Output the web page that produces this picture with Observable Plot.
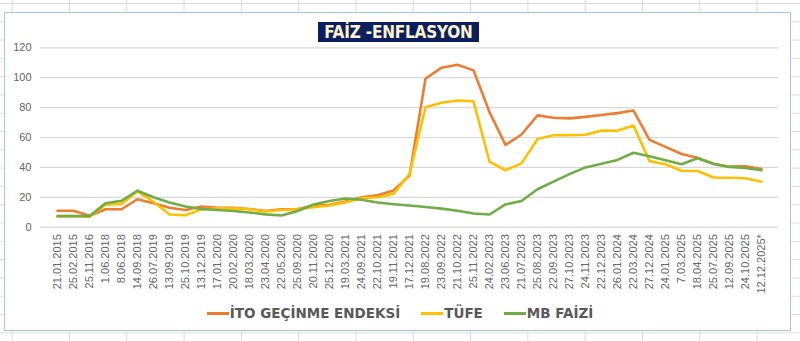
<!DOCTYPE html>
<html><head><meta charset="utf-8">
<script src="https://cdn.jsdelivr.net/npm/d3@7"></script>
<script src="https://cdn.jsdelivr.net/npm/@observablehq/plot@0.6"></script>
<style>
html,body{margin:0;padding:0;}
body{width:800px;height:341px;position:relative;overflow:hidden;background-color:#fff;
  background-image:linear-gradient(to right,#dcdcdc 1px,transparent 1px),linear-gradient(to bottom,#dcdcdc 1px,transparent 1px);
  background-size:57.3px 18.3px,57.3px 18.3px;background-position:11.7px 0,0 3px;}
#box{position:absolute;left:4px;top:12px;width:785px;height:317px;background:#fff;border:1px solid #a9c6e8;}
#title{position:absolute;left:318px;top:22px;width:161px;height:20px;background:#0b1f5e;color:#fdf3cf;
  font-family:"DejaVu Sans Condensed","DejaVu Sans";font-weight:bold;font-size:17px;line-height:20px;text-align:center;letter-spacing:-0.2px;}
#chart{position:absolute;left:0;top:0;}
#legend{position:absolute;left:0;top:305px;width:800px;display:flex;justify-content:center;align-items:center;gap:21px;
  font-family:"DejaVu Sans";font-weight:bold;font-size:13.5px;color:#595959;}
.item{display:flex;align-items:center;}
.sw{display:inline-block;width:22px;height:3px;margin-right:1px;}
</style></head><body>
<div id="box"></div>
<div id="chart"></div>
<div id="title">FAİZ -ENFLASYON</div>
<div id="legend"></div>
<script>
const dates = ["21.01.2015","25.02.2015","25.11.2016","1.06.2018","8.06.2018","14.09.2018","26.07.2019","13.09.2019","25.10.2019","13.12.2019","17.01.2020","20.02.2020","18.03.2020","23.04.2020","22.05.2020","25.09.2020","20.11.2020","25.12.2020","19.03.2021","24.09.2021","22.10.2021","19.11.2021","17.12.2021","19.08.2022","23.09.2022","21.10.2022","25.11.2022","24.02.2023","23.06.2023","21.07.2023","25.08.2023","22.09.2023","27.10.2023","24.11.2023","22.12.2023","26.01.2024","22.03.2024","27.12.2024","24.01.2025","7.03.2025","18.04.2025","25.07.2025","12.09.2025","24.10.2025","12.12.2025*"];
const ito  = [11,11,7.6,12,12,18.7,16,13,11.5,13.8,13,13,12.2,10.8,12,12.2,14.3,15,17.2,20,21.4,24.6,34.5,99.3,106.7,108.7,104.9,77,55,62,74.8,73.2,72.8,73.8,75,76.3,78,58.4,53.7,49,46.5,42.5,40.5,40.7,38.9];
const tufe = [7.4,7.5,7,15,15.6,24,17,8.5,8,12,12.6,12.6,12,10.5,11.5,12,13.3,14.5,16.6,19.5,20,22.3,35.6,80.3,83.2,84.8,84.2,43.8,38.1,42.7,59,61.5,61.6,61.8,64.6,64.5,68,44.2,42.1,37.8,37.6,33.2,33.1,32.7,30.4];
const mb   = [7.4,7.4,7.4,16,17.7,24.4,20,16.5,13.8,12.2,11.5,10.8,9.8,8.6,7.8,10.8,15.2,17.5,19.2,18.4,16.5,15.4,14.5,13.5,12.4,11,9.2,8.5,15.2,17.5,25.4,30.5,35.5,40,42.5,45,49.8,47.4,44.8,42.1,46.1,42.3,40.3,39.6,38.1];
const seriesNames = ["İTO GEÇİNME ENDEKSİ","TÜFE","MB FAİZİ"];
const seriesColors = ["#ED7D31","#FFC000","#70AD47"];
const yTicks = [0,20,40,60,80,100,120];

const rows = [];
[ito,tufe,mb].forEach((arr,si)=>arr.forEach((v,i)=>rows.push({date:dates[i],value:v,series:seriesNames[si]})));

const plot = Plot.plot({
  width:800, height:300, marginTop:47.3, marginBottom:73.3, marginLeft:40, marginRight:22,
  x:{type:"point", domain:dates, padding:0.5},
  y:{domain:[0,120]},
  color:{domain:seriesNames, range:seriesColors},
  style:{background:"transparent", fontFamily:"Liberation Sans", fontSize:"11px", color:"#666666"},
  marks:[
    Plot.ruleY(yTicks,{stroke:"#d9d9d9", strokeWidth:1.2}),
    Plot.axisY({ticks:yTicks, tickSize:0, tickPadding:9, label:null}),
    Plot.axisX({tickSize:0, tickPadding:7, tickRotate:-90, label:null}),
    Plot.line(rows,{x:"date", y:"value", z:"series", stroke:"series", strokeWidth:2.6, strokeLinejoin:"round", strokeLinecap:"round"})
  ]
});
document.getElementById("chart").appendChild(plot);

const lg = document.getElementById("legend");
seriesNames.forEach((n,i)=>{
  const it = document.createElement("div"); it.className="item";
  const sw = document.createElement("span"); sw.className="sw"; sw.style.background=seriesColors[i];
  const t = document.createElement("span"); t.textContent=n;
  it.appendChild(sw); it.appendChild(t); lg.appendChild(it);
});
</script>
</body></html>
